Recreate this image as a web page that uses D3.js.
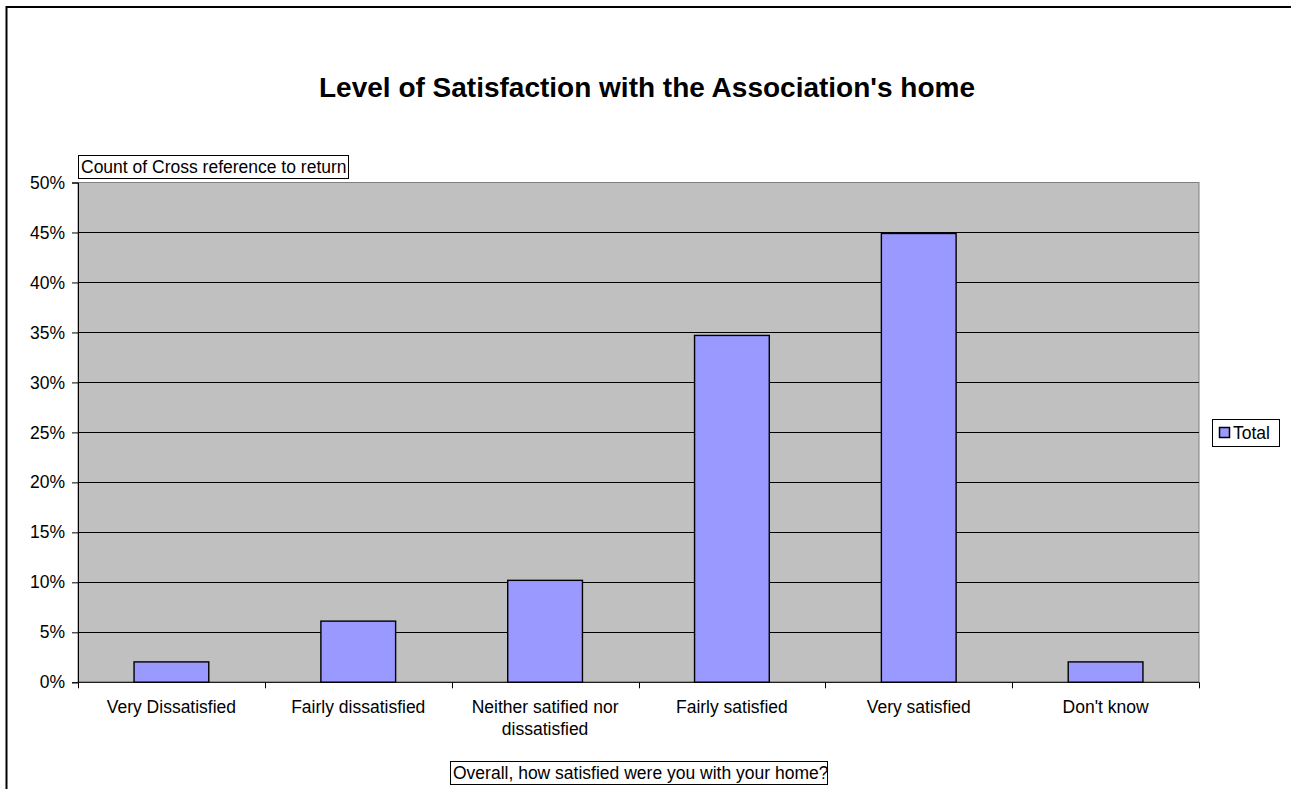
<!DOCTYPE html>
<html><head><meta charset="utf-8">
<script src="https://cdn.jsdelivr.net/npm/d3@7"></script>
<style>
html,body{margin:0;padding:0;background:#fff;overflow:hidden}
text{font-family:"Liberation Sans",Arial,sans-serif}
</style></head>
<body><svg id="c" width="1291" height="789"></svg>
<script>
const categories = [["Very Dissatisfied"],["Fairly dissatisfied"],["Neither satified nor","dissatisfied"],["Fairly satisfied"],["Very satisfied"],["Don't know"]];
const values = [0.0204, 0.0612, 0.102, 0.347, 0.449, 0.0204];
const yTicks = [0,0.05,0.1,0.15,0.2,0.25,0.3,0.35,0.4,0.45,0.5];
const title = "Level of Satisfaction with the Association's home";
const seriesName = "Total";
const pageFieldLabel = "Count of Cross reference to return";
const xAxisTitle = "Overall, how satisfied were you with your home?";

const FS = 17.5;
const svg = d3.select("#c");
const L=78, R=1199, T=182.5, B=682.3;

// outer chart border
svg.append("rect").attr("x",6.5).attr("y",7).attr("width",1400).attr("height",900)
  .attr("fill","#fff").attr("stroke","#000").attr("stroke-width",2);

const x = d3.scaleBand().domain(d3.range(categories.length)).range([L,R]).paddingInner(0.6).paddingOuter(0.3);
const y = d3.scaleLinear().domain([0,0.5]).range([B,T]);

// plot area
svg.append("rect").attr("x",L).attr("y",T).attr("width",R-L).attr("height",B-T)
  .attr("fill","#C0C0C0").attr("stroke","#808080").attr("stroke-width",1);

// gridlines
svg.append("g").selectAll("line").data(yTicks.filter(d=>d>0 && d<0.5)).join("line")
  .attr("x1",L).attr("x2",R).attr("y1",d=>Math.round(y(d))+0.5).attr("y2",d=>Math.round(y(d))+0.5)
  .attr("stroke","#000").attr("stroke-width",1);

// bars
svg.append("g").selectAll("rect").data(values).join("rect")
  .attr("x",(d,i)=>x(i)).attr("width",x.bandwidth())
  .attr("y",d=>y(d)).attr("height",d=>B-y(d))
  .attr("fill","#9999FF").attr("stroke","#000").attr("stroke-width",1.4);

// y axis
const yAxis = d3.axisLeft(y).tickValues(yTicks).tickFormat(d3.format(".0%")).tickSize(6).tickPadding(7);
const gy = svg.append("g").attr("transform",`translate(${L},0)`).call(yAxis);
gy.select(".domain").attr("stroke","#000");
gy.selectAll(".tick line").attr("stroke","#000");
gy.selectAll("text").attr("font-size",FS).attr("fill","#000").attr("font-family","Liberation Sans, Arial, sans-serif");

// x axis line
svg.append("line").attr("x1",L).attr("x2",R).attr("y1",B).attr("y2",B).attr("stroke","#000").attr("stroke-width",1);
// x tick marks at category boundaries
const step = x.step();
const bounds = d3.range(categories.length+1).map(i=> i<categories.length ? x(i)-step*0.3 : x(categories.length-1)+x.bandwidth()+step*0.3);
svg.append("g").selectAll("line").data(bounds).join("line")
  .attr("x1",d=>Math.round(d)+0.5).attr("x2",d=>Math.round(d)+0.5).attr("y1",B).attr("y2",B+6)
  .attr("stroke","#000");

// x labels
const xl = svg.append("g").selectAll("text").data(categories).join("text")
  .attr("x",(d,i)=>x(i)+x.bandwidth()/2).attr("y",713)
  .attr("text-anchor","middle").attr("font-size",FS).attr("fill","#000");
xl.each(function(d){
  const t=d3.select(this);
  d.forEach((line,j)=>t.append("tspan").attr("x",t.attr("x")).attr("dy",j===0?0:22).text(line));
});

// title
svg.append("text").attr("x",647).attr("y",97).attr("text-anchor","middle")
  .attr("font-size",28).attr("font-weight","bold").attr("fill","#000").text(title);

// boxed labels
function boxedText(txt, x0, y0, x1, y1, tx, ty){
  svg.append("rect").attr("x",x0+0.5).attr("y",y0+0.5).attr("width",x1-x0).attr("height",y1-y0)
    .attr("fill","#fff").attr("stroke","#000").attr("stroke-width",1);
  svg.append("text").attr("x",tx).attr("y",ty).attr("font-size",FS).attr("fill","#000").text(txt);
}
boxedText(pageFieldLabel, 78, 155, 348, 178, 81, 173);
boxedText(xAxisTitle, 450, 761, 827, 784, 453, 779);

// legend
svg.append("rect").attr("x",1212.5).attr("y",419.5).attr("width",67).attr("height",27)
  .attr("fill","#fff").attr("stroke","#000");
svg.append("rect").attr("x",1219.5).attr("y",427.5).attr("width",10).attr("height",10)
  .attr("fill","#9999FF").attr("stroke","#000").attr("stroke-width",1.5);
svg.append("text").attr("x",1233).attr("y",438.5).attr("font-size",FS).attr("fill","#000").text(seriesName);
</script></body></html>
